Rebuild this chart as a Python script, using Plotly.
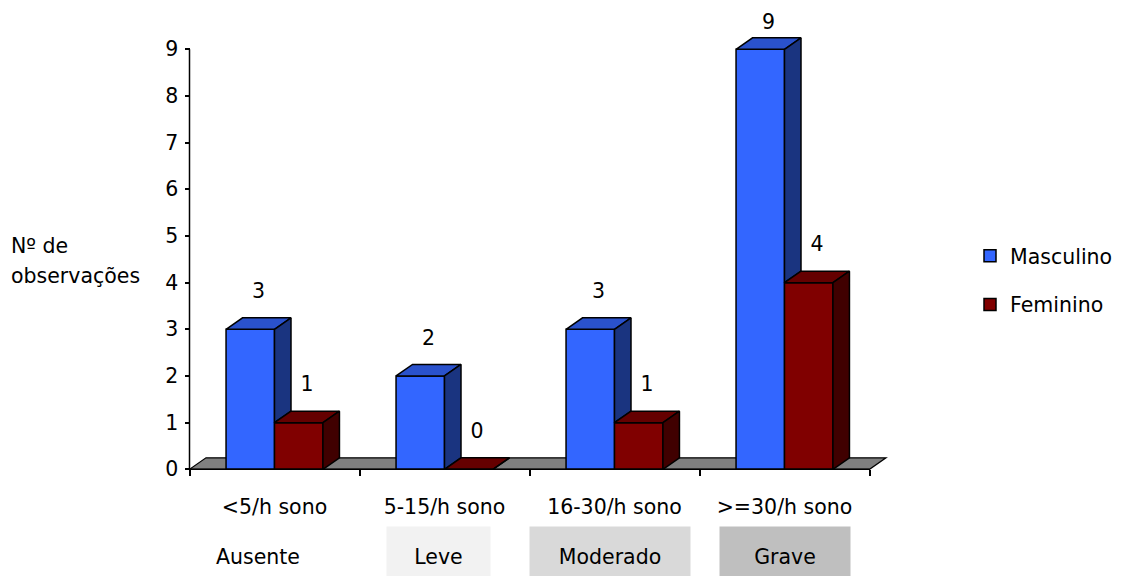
import plotly.graph_objects as go

# ---------------- data ----------------
categories = ["<5/h sono", "5-15/h sono", "16-30/h sono", ">=30/h sono"]
severity = ["Ausente", "Leve", "Moderado", "Grave"]
masculino = [3, 2, 3, 9]
feminino = [1, 0, 1, 4]
y_ticks = [0, 1, 2, 3, 4, 5, 6, 7, 8, 9]

# ---------------- styling / geometry ----------------
FONT = "DejaVu Sans"
FS = 20.5
PAGE_OFF = 8                            # browser body margin
W, H = 1126 - PAGE_OFF, 576 - PAGE_OFF
L, R, T, B = 180, 905, 10, 478          # plot area in page px
PX_CAT = 170.0                          # px per category
PX_UNIT = 46.667                        # px per y unit
X0PX, Y0PX = 189.5, 469.3               # page px of axis origin
xmin = -0.5 - (X0PX - L) / PX_CAT
xmax = xmin + (R - L) / PX_CAT
ymin = -(B - Y0PX) / PX_UNIT
ymax = ymin + (B - T) / PX_UNIT

bw = 0.285                              # bar width (data units)
dx = 16.5 / PX_CAT                      # depth offset x
dy = 11.5 / PX_UNIT                     # depth offset y

BLUE_FRONT, BLUE_TOP, BLUE_SIDE = "#3366FF", "#2A52CC", "#1A3480"
RED_FRONT, RED_TOP, RED_SIDE = "#800000", "#650000", "#400000"
sev_colors = ["rgba(0,0,0,0)", "#F2F2F2", "#D9D9D9", "#BFBFBF"]
sev_center_px = [258, 438.5, 610, 785]
sev_width_px = [100, 103, 160, 130]


def paper_x(px):
    return (px - L) / (R - L)


def paper_y(py):
    return (B - py) / (B - T)


xs = list(range(len(categories)))

fig = go.Figure()

# front faces (real bars)
fig.add_trace(go.Bar(x=xs, y=masculino, width=bw, offset=-bw, name="Masculino",
                     marker=dict(color=BLUE_FRONT, line=dict(color="black", width=1.5)),
                     legendgroup="m", hoverinfo="skip"))
fig.add_trace(go.Bar(x=xs, y=feminino, width=bw, offset=0, name="Feminino",
                     marker=dict(color=RED_FRONT, line=dict(color="black", width=1.5)),
                     legendgroup="f", hoverinfo="skip"))


def faces(x_left, values, floor_values):
    tx, ty, sx, sy = [], [], [], []
    for xl, v, v0 in zip(x_left, values, floor_values):
        xr = xl + bw
        tx += [xl, xr, xr + dx, xl + dx, xl, None]
        ty += [v, v, v + dy, v + dy, v, None]
        sx += [xr, xr + dx, xr + dx, xr, xr, None]
        sy += [v0, v0 + dy, v + dy, v, v0, None]
    return tx, ty, sx, sy


blue_left = [c - bw for c in xs]
red_left = [c for c in xs]
btx, bty, bsx, bsy = faces(blue_left, masculino, [min(m, f) for m, f in zip(masculino, feminino)])
rtx, rty, rsx, rsy = faces(red_left, feminino, [0] * len(feminino))

for fx, fy, col in [(btx, bty, BLUE_TOP), (bsx, bsy, BLUE_SIDE), (rtx, rty, RED_TOP), (rsx, rsy, RED_SIDE)]:
    fig.add_trace(go.Scatter(x=fx, y=fy, mode="lines", fill="toself", fillcolor=col,
                             line=dict(color="black", width=1.5), showlegend=False,
                             hoverinfo="skip", connectgaps=False))

# value labels (kept inside the top of the chart)
LABEL_OFF = 0.78
LABEL_MAX = 9.55
lab_x = [c - bw / 2 + dx / 2 for c in xs] + [c + bw / 2 + dx / 2 for c in xs]
lab_y = [min(v + LABEL_OFF, LABEL_MAX) for v in masculino] + [min(v + LABEL_OFF, LABEL_MAX) for v in feminino]
lab_t = [str(v) for v in masculino] + [str(v) for v in feminino]
fig.add_trace(go.Scatter(x=lab_x, y=lab_y, text=lab_t, mode="text", textposition="middle center",
                         textfont=dict(family=FONT, size=FS, color="black"),
                         showlegend=False, hoverinfo="skip", cliponaxis=False))

n = len(categories)
shapes = [
    # floor
    dict(type="path", xref="x", yref="y", layer="below",
         path=f"M {-0.5},0 L {n - 0.5},0 L {n - 0.5 + dx},{dy} L {-0.5 + dx},{dy} Z",
         fillcolor="#808080", line=dict(color="black", width=1.2)),
    # axis lines
    dict(type="line", xref="x", yref="y", x0=-0.5, x1=-0.5, y0=0, y1=max(y_ticks),
         line=dict(color="black", width=1.5), layer="above"),
    dict(type="line", xref="x", yref="y", x0=-0.5, x1=n - 0.5, y0=0, y1=0,
         line=dict(color="black", width=1.5), layer="above"),
]

annotations = []
for name, col, cx, wd in zip(severity, sev_colors, sev_center_px, sev_width_px):
    annotations.append(dict(text=name, xref="paper", yref="paper", x=paper_x(cx), y=paper_y(557),
                            xanchor="center", yanchor="middle", showarrow=False,
                            bgcolor=col, width=wd, height=60, borderpad=0,
                            font=dict(family=FONT, size=FS, color="black")))
annotations.append(dict(text="Nº de", xref="paper", yref="paper", x=paper_x(9), y=paper_y(246),
                        xanchor="left", yanchor="middle", showarrow=False,
                        font=dict(family=FONT, size=FS, color="black")))
annotations.append(dict(text="observações", xref="paper", yref="paper", x=paper_x(9), y=paper_y(276),
                        xanchor="left", yanchor="middle", showarrow=False,
                        font=dict(family=FONT, size=FS, color="black")))

fig.update_layout(
    width=W, height=H,
    margin=dict(l=L - PAGE_OFF, r=W - (R - PAGE_OFF), t=T - PAGE_OFF, b=H - (B - PAGE_OFF), pad=0),
    paper_bgcolor="white", plot_bgcolor="white",
    font=dict(family=FONT, size=FS, color="black"),
    barmode="overlay",
    shapes=shapes,
    annotations=annotations,
    showlegend=True,
    legend=dict(x=paper_x(970), y=paper_y(236), xanchor="left", yanchor="top",
                traceorder="grouped", tracegroupgap=19,
                font=dict(family=FONT, size=FS, color="black"),
                bgcolor="rgba(0,0,0,0)"),
    xaxis=dict(range=[xmin, xmax], anchor="free", position=paper_y(Y0PX),
               tickmode="array", tickvals=xs, ticktext=categories, ticks="",
               showgrid=False, zeroline=False, showline=False,
               ticklabelstandoff=23,
               minor=dict(tickmode="array", tickvals=[c - 0.5 for c in range(n + 1)],
                          ticks="outside", ticklen=6, tickwidth=1.5, tickcolor="black",
                          showgrid=False),
               tickfont=dict(family=FONT, size=FS, color="black")),
    yaxis=dict(range=[ymin, ymax], anchor="free", position=paper_x(X0PX),
               tickmode="array", tickvals=y_ticks, ticks="outside", ticklen=5,
               tickwidth=1.5, tickcolor="black", ticklabelstandoff=2,
               showgrid=False, zeroline=False, showline=False,
               tickfont=dict(family=FONT, size=FS, color="black")),
)

fig.write_html("out.html")
